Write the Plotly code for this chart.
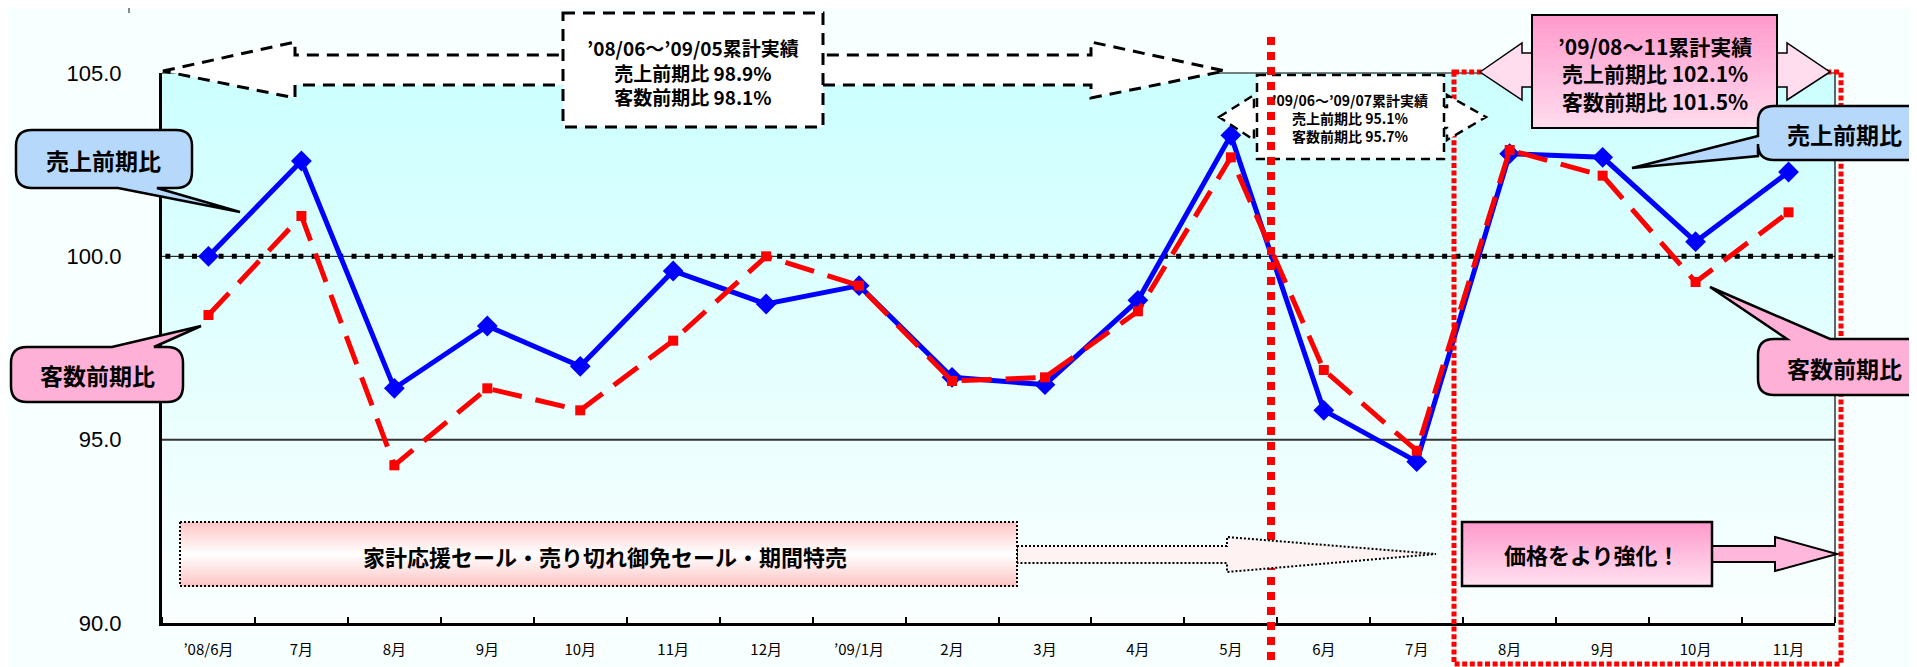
import plotly.graph_objects as go

# ---------------- data ----------------
months = ["’08/6月", "7月", "8月", "9月", "10月", "11月", "12月", "’09/1月", "2月", "3月",
          "4月", "5月", "6月", "7月", "8月", "9月", "10月", "11月"]
sales_ratio = [100.0, 102.6, 96.4, 98.1, 97.0, 99.6, 98.7, 99.2, 96.7, 96.5,
               98.8, 103.3, 95.8, 94.4, 102.8, 102.7, 100.4, 102.3]
customer_ratio = [98.4, 101.1, 94.3, 96.4, 95.8, 97.7, 100.0, 99.2, 96.6, 96.7,
                  98.5, 102.7, 96.9, 94.7, 102.9, 102.2, 99.3, 101.2]
y_tickvals = [90, 95, 100, 105]
y_ticktext = ["90.0", "95.0", "100.0", "105.0"]

period1_text = ["’08/06～’09/05累計実績", "売上前期比 98.9%", "客数前期比 98.1%"]
period2_text = ["’09/06～’09/07累計実績", "売上前期比 95.1%", "客数前期比 95.7%"]
period3_text = ["’09/08～11累計実績", "売上前期比 102.1%", "客数前期比 101.5%"]
label_sales = "売上前期比"
label_cust = "客数前期比"
label_sale_events = "家計応援セール・売り切れ御免セール・期間特売"
label_price = "価格をより強化！"

# ---------------- layout geometry (screen pixels) ----------------
W, H = 1917, 667
OFF = 8                      # page body margin of the browser
L, R, T, B = 162, 1835, 73, 623
JP = "Noto Sans CJK JP"


def px(x):
    return (x - L) / (R - L)


def py(y):
    return (B - y) / (B - T)


def P(x, y):
    return f"{px(x):.5f},{py(y):.5f}"


def poly(pts):
    return "M " + " L ".join(P(*p) for p in pts) + " Z"


def callout(x0, y0, x1, y1, r, side, base, tip):
    s = "M " + P(x0 + r, y0)
    if side == "top":
        s += " L " + P(min(base), y0) + " L " + P(*tip) + " L " + P(max(base), y0)
    s += " L " + P(x1 - r, y0) + " Q " + P(x1, y0) + " " + P(x1, y0 + r)
    s += " L " + P(x1, y1 - r) + " Q " + P(x1, y1) + " " + P(x1 - r, y1)
    if side == "bottom":
        s += " L " + P(max(base), y1) + " L " + P(*tip) + " L " + P(min(base), y1)
    s += " L " + P(x0 + r, y1) + " Q " + P(x0, y1) + " " + P(x0, y1 - r)
    if side == "left":
        s += " L " + P(x0, max(base)) + " L " + P(*tip) + " L " + P(x0, min(base))
    s += " L " + P(x0, y0 + r) + " Q " + P(x0, y0) + " " + P(x0 + r, y0) + " Z"
    return s


def hex2rgb(h):
    h = h.lstrip("#")
    return tuple(int(h[i:i + 2], 16) for i in (0, 2, 4))


def lerp_col(stops, t):
    for (p0, c0), (p1, c1) in zip(stops[:-1], stops[1:]):
        if p0 <= t <= p1:
            f = 0 if p1 == p0 else (t - p0) / (p1 - p0)
            a, b = hex2rgb(c0), hex2rgb(c1)
            return "rgb(%d,%d,%d)" % tuple(round(a[i] + (b[i] - a[i]) * f) for i in range(3))
    return stops[-1][1]


shapes = []


def grad_rect(x0, y0, x1, y1, stops, n=24, layer="above"):
    h = (y1 - y0) / n
    for i in range(n):
        t = (i + 0.5) / n
        shapes.append(dict(type="rect", xref="paper", yref="paper", layer=layer,
                           x0=px(x0), x1=px(x1), y0=py(y0 + i * h), y1=py(y0 + (i + 1) * h + 0.6),
                           line=dict(width=0), fillcolor=lerp_col(stops, t)))


def path_shape(path, fill, color="black", width=2, dash="solid", layer="above"):
    shapes.append(dict(type="path", xref="paper", yref="paper", layer=layer, path=path,
                       fillcolor=fill, line=dict(color=color, width=width, dash=dash)))


def line_shape(x0, y0, x1, y1, color, width, dash="solid", layer="above"):
    shapes.append(dict(type="line", xref="paper", yref="paper", layer=layer,
                       x0=px(x0), y0=py(y0), x1=px(x1), y1=py(y1),
                       line=dict(color=color, width=width, dash=dash)))


# plot-area gradient background
grad_rect(L, T, R, B, [(0, "#ccffff"), (1, "#fafffe")], n=60, layer="below")

# reference lines (data coordinates on y)
shapes.append(dict(type="line", xref="paper", yref="y", layer="below", x0=0, x1=1, y0=95, y1=95,
                   line=dict(color="#333333", width=2)))
shapes.append(dict(type="line", xref="paper", yref="y", layer="below", x0=0, x1=1, y0=100, y1=100,
                   line=dict(color="black", width=1)))
shapes.append(dict(type="line", xref="paper", yref="y", layer="below", x0=0.002, x1=1, y0=100, y1=100,
                   line=dict(color="black", width=5, dash="5px,8.3px")))
# top / right thin borders
line_shape(L, T, R, T, "black", 1.2)
line_shape(R, T, R, B, "black", 1.2)

# red dotted rectangle (period 3)
path_shape(poly([(1454, 72), (1841, 72), (1841, 664), (1454, 664)]), "rgba(0,0,0,0)",
           color="#ff0000", width=5, dash="5px,2.6px")

# big dashed double arrow + box (period 1)
path_shape(poly([(163, 71), (295, 42), (295, 55), (1091, 55), (1091, 42), (1225, 71),
                 (1091, 98), (1091, 85), (295, 85), (295, 98)]),
           "white", width=3, dash="12px,8px")
path_shape(poly([(563, 13), (823, 13), (823, 127), (563, 127)]), "white", width=3, dash="12px,8px")

# small dashed double arrow + box (period 2)
path_shape(poly([(1219, 117), (1254, 95), (1254, 107), (1447, 107), (1447, 95), (1486, 117),
                 (1447, 140), (1447, 128), (1254, 128), (1254, 140)]),
           "white", width=2.5, dash="9px,6px")
path_shape(poly([(1257, 75), (1444, 75), (1444, 159), (1257, 159)]), "white", width=2.5, dash="9px,6px")

# pink double arrow + box (period 3)
path_shape(poly([(1480, 72), (1522, 43), (1522, 53), (1787, 53), (1787, 43), (1830, 72),
                 (1787, 100), (1787, 87), (1522, 87), (1522, 100)]),
           "#ffdcee", width=1.5)
grad_rect(1532, 15, 1777, 128, [(0, "#ff99cc"), (1, "#ffdcee")])
path_shape(poly([(1532, 15), (1777, 15), (1777, 128), (1532, 128)]), "rgba(0,0,0,0)", width=2)

# red vertical dotted divider
line_shape(1271, 37, 1271, 667, "#ff0000", 8, dash="8px,7px")

# callouts
path_shape(callout(16, 130, 192, 188, 16, "bottom", (118, 157), (240, 212)), "#b5d8fb", width=2.5)
path_shape(callout(11, 347, 183, 402, 16, "top", (112, 154), (201, 326)), "#ffb0d6", width=2.5)
path_shape(callout(1758, 106, 1935, 160, 16, "left", (136, 156), (1632, 168)), "#b5d8fb", width=2.5)
path_shape(callout(1758, 339, 1935, 395, 16, "top", (1787, 1830), (1710, 287)), "#ffb0d6", width=2.5)

# sale-event box with dotted arrow
path_shape(poly([(1017, 546), (1227, 546), (1227, 537), (1436, 554), (1227, 572), (1227, 563),
                 (1017, 563)]), "#fff2f2", width=2, dash="2px,2px")
grad_rect(180, 522, 1017, 586, [(0, "#ffc4c4"), (0.5, "#ffffff"), (1, "#ffc4c4")])
path_shape(poly([(180, 522), (1017, 522), (1017, 586), (180, 586)]), "rgba(0,0,0,0)",
           width=2, dash="2px,2px")

# price box with arrow
path_shape(poly([(1712, 546), (1775, 546), (1775, 537), (1837, 554), (1775, 571), (1775, 562),
                 (1712, 562)]), "#ffb8dc", width=2)
grad_rect(1462, 522, 1712, 586, [(0, "#ff99cc"), (1, "#ffe2f0")])
path_shape(poly([(1462, 522), (1712, 522), (1712, 586), (1462, 586)]), "rgba(0,0,0,0)", width=2.5)

# small gray mark at top-left
line_shape(129, OFF, 129, OFF + 5, "#888888", 2)

# ---------------- annotations ----------------
annotations = []


def text(x, y, s, size, bold=True):
    annotations.append(dict(xref="paper", yref="paper", x=px(x), y=py(y), text=(f"<b>{s}</b>" if bold else s),
                            showarrow=False, xanchor="center", yanchor="middle", align="center",
                            font=dict(family=JP, size=size, color="black")))


text(693, 72, "<br>".join(period1_text), 19)
text(1350, 118, "<br>".join(period2_text), 14)
text(1655, 73, "<br>".join(period3_text), 21)
text(103, 160, label_sales, 23)
text(97, 375, label_cust, 23)
text(1844, 134, label_sales, 23)
text(1844, 368, label_cust, 23)
text(605, 556, label_sale_events, 22)
text(1592, 554, label_price, 22)

# ---------------- figure ----------------
x_idx = list(range(len(months)))

fig = go.Figure()
fig.add_trace(go.Scatter(x=x_idx, y=sales_ratio, mode="lines+markers", name=label_sales,
                         line=dict(color="#0000ff", width=5),
                         marker=dict(symbol="diamond", size=16, color="#0000ff")))
fig.add_trace(go.Scatter(x=x_idx, y=customer_ratio, mode="lines+markers", name=label_cust,
                         line=dict(color="#ff0000", width=5, dash="30px,14px"),
                         marker=dict(symbol="square", size=10, color="#ff0000")))

fig.update_layout(
    width=W, height=H,
    margin=dict(l=L - OFF, r=W - (R - OFF), t=T - OFF, b=H - (B - OFF), pad=0),
    paper_bgcolor="#f8ffff",
    plot_bgcolor="#fafffe",
    showlegend=False,
    shapes=shapes,
    annotations=annotations,
    xaxis=dict(range=[-0.5, len(months) - 0.5], tickmode="array", tickvals=x_idx, ticktext=months,
               ticks="", showgrid=False, zeroline=False, showline=True, linecolor="black", linewidth=3,
               tickfont=dict(family=JP, size=15, color="black"), ticklabelstandoff=11,
               minor=dict(ticks="inside", tick0=0.5, dtick=1, ticklen=6, tickwidth=1.5,
                          tickcolor="black", showgrid=False)),
    yaxis=dict(range=[90, 105], tickmode="array", tickvals=y_tickvals, ticktext=y_ticktext,
               ticks="", showgrid=False, zeroline=False, showline=True, linecolor="black", linewidth=3,
               tickfont=dict(family="Liberation Sans", size=22, color="black"), ticklabelstandoff=33),
)

fig.write_html("out.html")
